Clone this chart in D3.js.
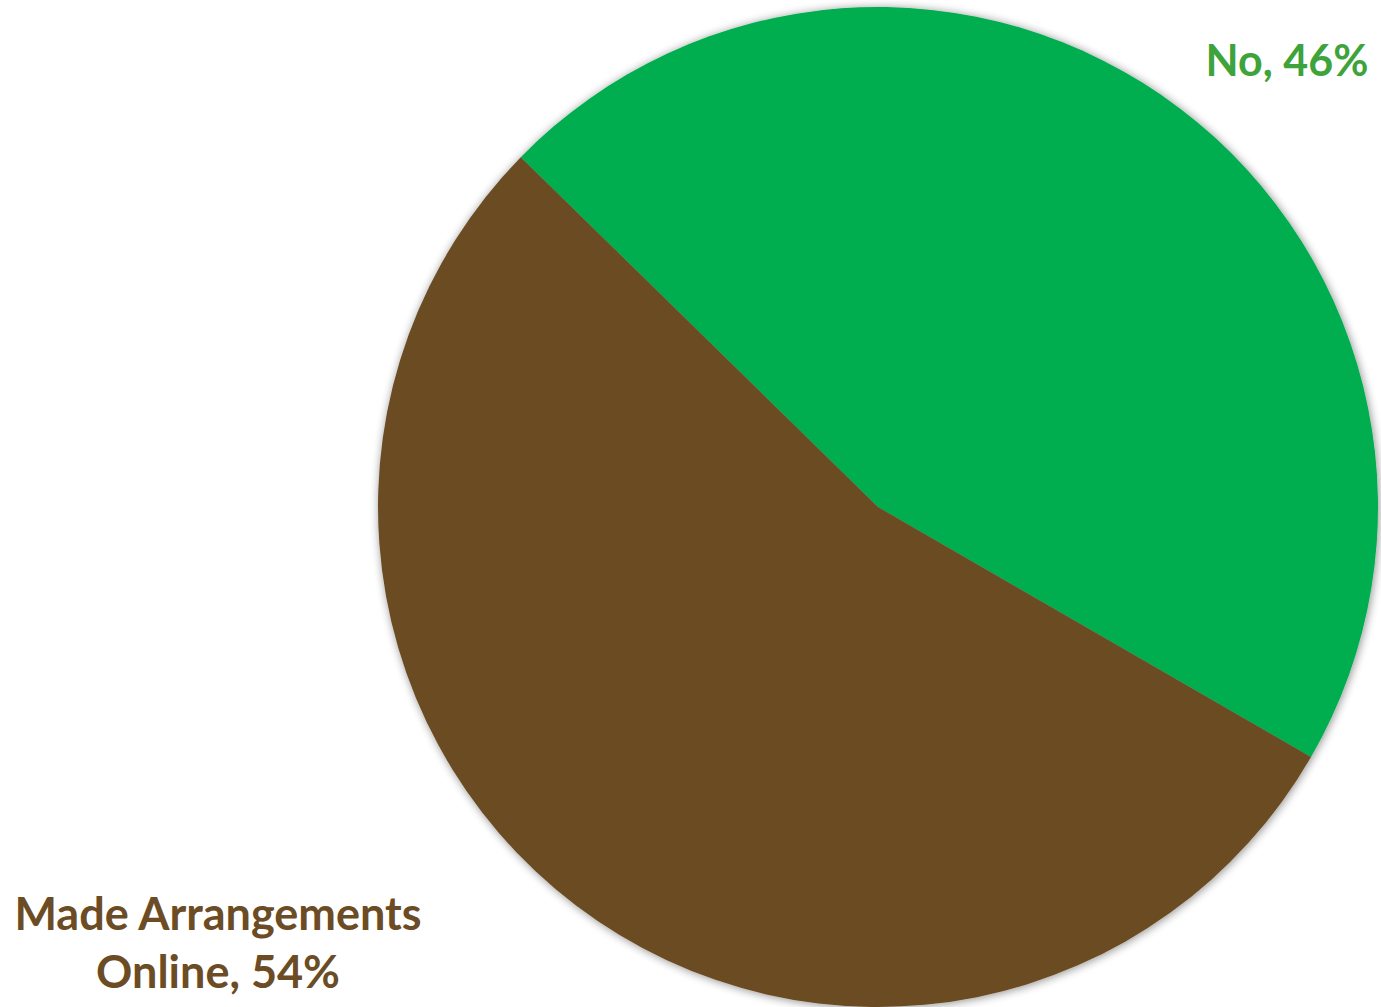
<!DOCTYPE html>
<html>
<head>
<meta charset="utf-8">
<script src="https://cdn.jsdelivr.net/npm/d3@7"></script>
<style>
  html, body { margin: 0; padding: 0; background: #fff; }
  svg { display: block; }
</style>
</head>
<body>
<svg id="chart" width="1381" height="1007"></svg>
<script>
// Survey answers and their shares (percent)
const categories = ["No", "Made Arrangements Online"];
const values = [46, 54];
const labelLines = [["No, 46%"], ["Made Arrangements", "Online, 54%"]];
const sliceColors = ["#00AD50", "#6B4C24"];
const labelColors = ["#3DA33A", "#6B4C24"];

const width = 1381, height = 1007;
const cx = 878, cy = 507, radius = 500;

const svg = d3.select("#chart");

// soft halo around the pie
const defs = svg.append("defs");
const f = defs.append("filter").attr("id", "halo")
  .attr("x", "-10%").attr("y", "-10%").attr("width", "120%").attr("height", "120%");
f.append("feGaussianBlur").attr("in", "SourceAlpha").attr("stdDeviation", 5).attr("result", "b");
f.append("feOffset").attr("in", "b").attr("dx", 1).attr("dy", 1).attr("result", "o");
f.append("feComponentTransfer").attr("in", "o").attr("result", "s")
  .append("feFuncA").attr("type", "linear").attr("slope", 0.45);
const m = f.append("feMerge");
m.append("feMergeNode").attr("in", "s");
m.append("feMergeNode").attr("in", "SourceGraphic");

const data = categories.map((c, i) => ({ category: c, value: values[i], i }));

const startDeg = -45.6;
const pie = d3.pie()
  .value(d => d.value)
  .sort(null)
  .startAngle(startDeg * Math.PI / 180)
  .endAngle((startDeg + 360) * Math.PI / 180);

const arc = d3.arc().innerRadius(0).outerRadius(radius);

const g = svg.append("g").attr("transform", `translate(${cx},${cy})`);

g.append("g").attr("filter", "url(#halo)")
  .selectAll("path")
  .data(pie(data))
  .join("path")
  .attr("d", arc)
  .attr("fill", d => sliceColors[d.data.i]);

// category labels placed outside the pie
const labelPos = [
  { x: 1287, y: 76 },
  { x: 218, y: 930 }
];
const lineGap = 58;
const fontSizes = [43, 45];

labelLines.forEach((lines, i) => {
  const t = svg.append("text")
    .attr("text-anchor", "middle")
    .attr("font-family", "Lato, 'Open Sans', sans-serif")
    .attr("font-weight", 700)
    .attr("font-size", fontSizes[i])
    .attr("fill", labelColors[i]);
  lines.forEach((ln, j) => {
    t.append("tspan")
      .attr("x", labelPos[i].x)
      .attr("y", labelPos[i].y + j * lineGap)
      .text(ln);
  });
});
</script>
</body>
</html>
